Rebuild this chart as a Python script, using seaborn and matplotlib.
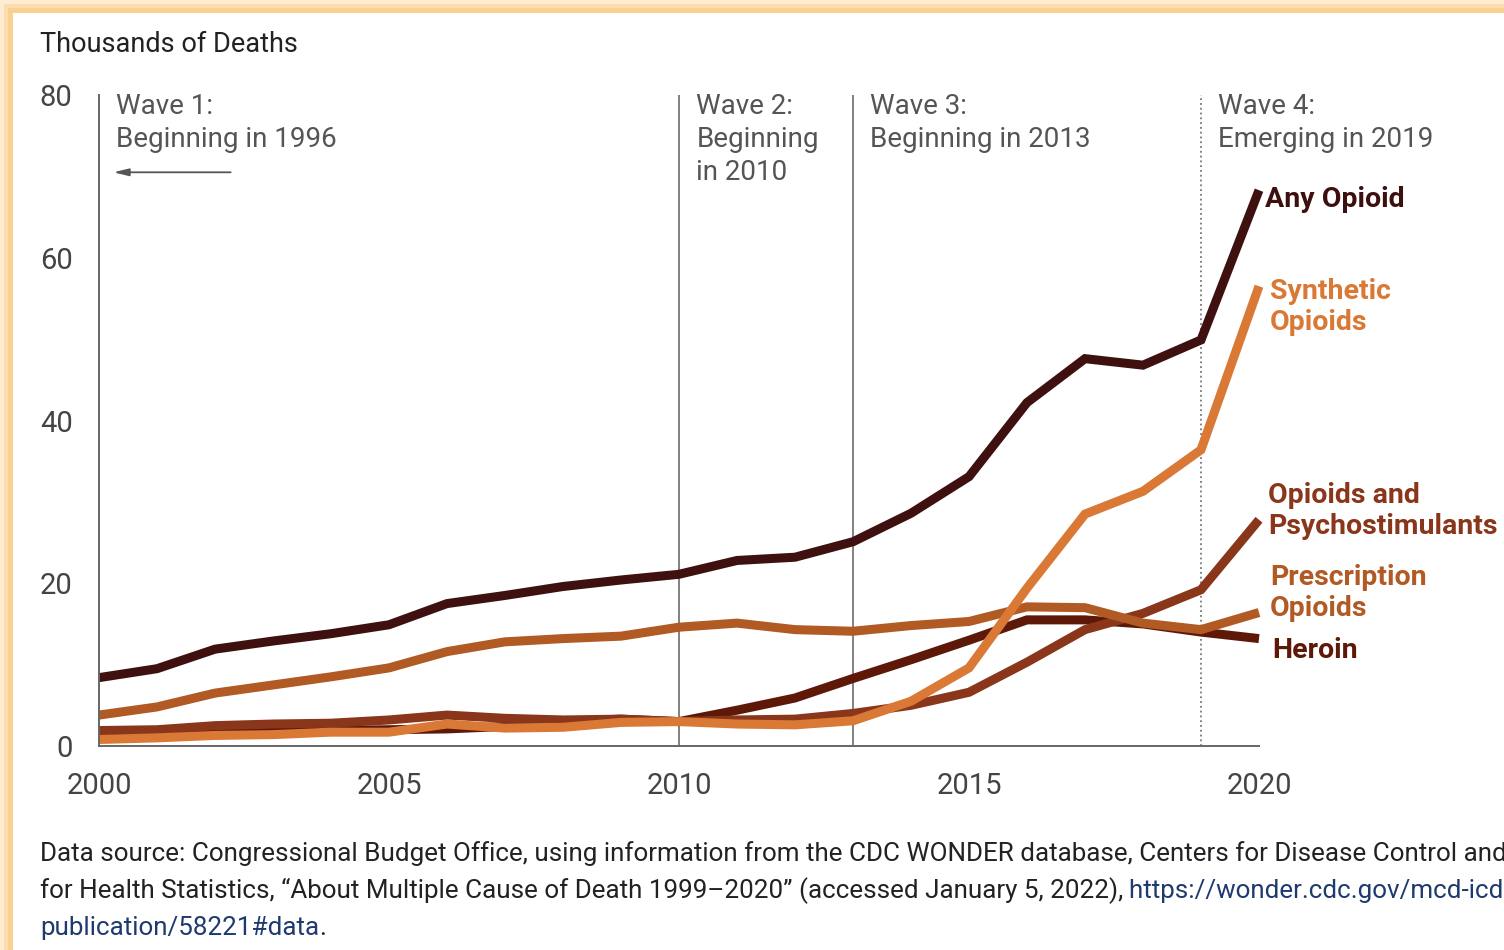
import pandas as pd
import numpy as np
import seaborn as sns
import matplotlib.pyplot as plt
from matplotlib.patches import Rectangle

# data (thousands of deaths)
years = list(range(2000, 2021))
any_opioid = [8.4, 9.5, 11.9, 12.9, 13.8, 14.9, 17.5, 18.5, 19.6, 20.4, 21.1, 22.8, 23.2, 25.1, 28.6, 33.1, 42.2, 47.6, 46.8, 49.9, 68.3]
prescription = [3.8, 4.8, 6.5, 7.5, 8.5, 9.6, 11.6, 12.8, 13.2, 13.5, 14.6, 15.1, 14.3, 14.1, 14.8, 15.3, 17.1, 17.0, 15.1, 14.3, 16.4]
synthetic = [0.8, 1.0, 1.3, 1.4, 1.7, 1.7, 2.7, 2.2, 2.3, 2.9, 3.0, 2.7, 2.6, 3.1, 5.5, 9.6, 19.4, 28.5, 31.3, 36.4, 56.5]
heroin = [1.8, 1.8, 2.1, 2.1, 1.9, 2.0, 2.1, 2.4, 3.0, 3.3, 3.0, 4.4, 5.9, 8.3, 10.6, 13.0, 15.5, 15.5, 15.0, 14.0, 13.2]
psycho = [1.9, 2.0, 2.5, 2.7, 2.8, 3.2, 3.8, 3.4, 3.2, 3.3, 3.0, 3.2, 3.3, 4.0, 5.0, 6.6, 10.3, 14.3, 16.3, 19.2, 27.8]

series = ['Any Opioid', 'Heroin', 'Opioids and Psychostimulants', 'Prescription Opioids', 'Synthetic Opioids']
line_colors = {'Any Opioid': '#3f1010', 'Heroin': '#5e1808', 'Opioids and Psychostimulants': '#8a361a',
               'Prescription Opioids': '#b15a24', 'Synthetic Opioids': '#d97935'}

wave_x = [2000, 2010, 2013, 2019]
wave_text = ['Wave 1:\nBeginning in 1996', 'Wave 2:\nBeginning\nin 2010', 'Wave 3:\nBeginning in 2013', 'Wave 4:\nEmerging in 2019']

labels = ['Any Opioid', 'Synthetic\nOpioids', 'Opioids and\nPsychostimulants', 'Prescription\nOpioids', 'Heroin']
label_keys = ['Any Opioid', 'Synthetic Opioids', 'Opioids and Psychostimulants', 'Prescription Opioids', 'Heroin']
label_y = [67.2, 53.9, 28.9, 18.8, 11.7]
label_dx = [0.1, 0.19, 0.16, 0.19, 0.22]

df = pd.DataFrame({'year': years * 5,
                   'deaths': any_opioid + heroin + psycho + prescription + synthetic,
                   'series': sum([[s] * len(years) for s in series], [])})

sns.set_style('white')
plt.rcParams['font.family'] = ['Roboto', 'DejaVu Sans']

fig = plt.figure(figsize=(15.04, 9.5), dpi=100)
W, H = 1504, 950

# orange frame on top and left
for off, col in [(0, '#fdebd2'), (4, '#fbdcad'), (8, '#f9cf92')]:
    fig.patches.append(Rectangle((off / W, 0), 1, 1 - off / H, transform=fig.transFigure,
                                 facecolor=col, edgecolor='none', zorder=-10))
fig.patches.append(Rectangle((13 / W, 0), 1, 1 - 13 / H, transform=fig.transFigure,
                             facecolor='white', edgecolor='none', zorder=-9))

ax = fig.add_axes([99 / W, 204 / H, 1160 / W, 651 / H])
ax.patch.set_alpha(0)

sns.lineplot(data=df, x='year', y='deaths', hue='series', hue_order=series,
             palette=line_colors, linewidth=6.5, legend=False, ax=ax)
for ln in ax.get_lines():
    ln.set_solid_capstyle('butt')
    ln.set_solid_joinstyle('miter')
    ln.set_clip_on(False)

ax.set_xlim(2000, 2020)
ax.set_ylim(0, 80)
ax.set_xticks([2000, 2005, 2010, 2015, 2020])
ax.set_yticks([0, 20, 40, 60, 80])
ax.set_xlabel('')
ax.set_ylabel('')
for s in ['top', 'right']:
    ax.spines[s].set_visible(False)
for s in ['left', 'bottom']:
    ax.spines[s].set_color('#666666')
    ax.spines[s].set_linewidth(1.4)
ax.tick_params(axis='both', direction='in', length=8, width=1.3, color='#666666',
               labelsize=21, labelcolor='#444444')
ax.tick_params(axis='y', pad=19)
ax.tick_params(axis='x', pad=19)

# wave markers
for i, (wx, wt) in enumerate(zip(wave_x, wave_text)):
    if i > 0:
        ax.axvline(wx, color='#777777', lw=1.3, ls=':' if i == 3 else '-', zorder=1)
    ax.text(wx + 0.3, 80.2, wt, ha='left', va='top', fontsize=20, color='#555555',
            linespacing=1.27)
ax.annotate('', xy=(2000.25, 70.5), xytext=(2002.27, 70.5),
            arrowprops=dict(arrowstyle='-|>,head_length=0.9,head_width=0.22',
                            color='#555555', lw=1.3, shrinkA=0, shrinkB=0))

# series labels
for lab, key, ly, dx in zip(labels, label_keys, label_y, label_dx):
    c = line_colors[key]
    if key == 'Any Opioid':
        c = '#3d0f0f'
    ax.text(2020 + dx, ly, lab, ha='left', va='center', fontsize=20.5, fontweight='bold',
            color=c, linespacing=1.2, clip_on=False)

fig.text(40 / W, 1 - 52 / H, 'Thousands of Deaths', fontsize=19.5, color='#222222', va='baseline')

# footnote
fs = 18.7
fig.text(40 / W, 1 - 861 / H,
         'Data source: Congressional Budget Office, using information from the CDC WONDER database, '
         'Centers for Disease Control and Prevention, National Center',
         fontsize=fs, color='#222222', va='baseline')
t2 = fig.text(40 / W, 1 - 898 / H,
              'for Health Statistics, \u201cAbout Multiple Cause of Death 1999\u20132020\u201d '
              '(accessed January 5, 2022),',
              fontsize=fs, color='#222222', va='baseline')
t3 = fig.text(40 / W, 1 - 935 / H, 'publication/58221#data', fontsize=fs, color='#1f3a6e', va='baseline')

# place the trailing pieces right after the text they follow
fig.canvas.draw()
r = fig.canvas.get_renderer()
bb2 = t2.get_window_extent(r)
fig.text(bb2.x1 / W + 0.004, 1 - 898 / H, 'https://wonder.cdc.gov/mcd-icd10.html. See www.cbo.gov/',
         fontsize=fs, color='#1f3a6e', va='baseline')
bb3 = t3.get_window_extent(r)
fig.text(bb3.x1 / W, 1 - 935 / H, '.', fontsize=fs, color='#222222', va='baseline')

fig.savefig('out.png', dpi=100)
